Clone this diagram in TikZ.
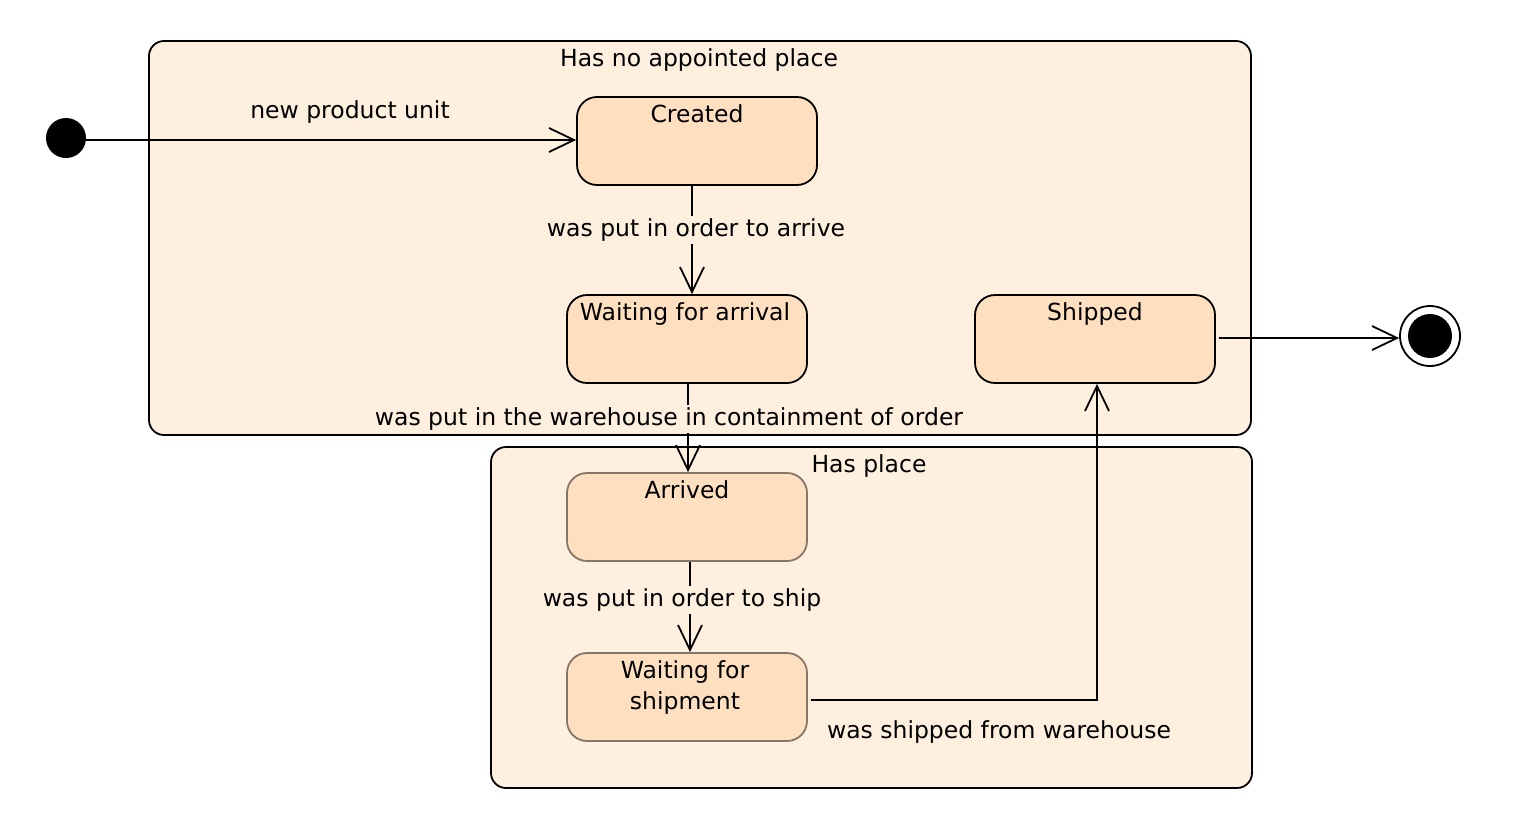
\documentclass[tikz,border=0pt]{standalone}
\usepackage{fontspec}
\setmainfont{DejaVu Sans}
\usetikzlibrary{arrows.meta}
\definecolor{contfill}{HTML}{FEEFDF}
\definecolor{statefill}{HTML}{FEE0C1}
\definecolor{softedge}{HTML}{85766A}
\tikzset{
  cont/.style={draw=black, line width=1.8pt, fill=contfill, rounded corners=15pt, inner sep=0pt},
  stbox/.style={draw=black, line width=1.8pt, fill=statefill, rounded corners=20pt,
    minimum width=240pt, minimum height=88pt, inner sep=0pt},
  stboxsoft/.style={stbox, draw=softedge},
  ttl/.style={anchor=north, inner sep=0pt, align=center},
  arr/.style={line width=1.8pt, -{Straight Barb[length=25pt, width=24pt, line width=1.8pt]}},
  lbl/.style={fill=contfill, inner sep=3pt},
  lblfree/.style={inner sep=0pt},
}
\begin{document}
\begin{tikzpicture}[x=1pt, y=-1pt, font=\fontsize{23.5pt}{31pt}\selectfont]
\useasboundingbox (0,0) rectangle (1536,822);
% containers
\node[cont, minimum width=1102pt, minimum height=394pt] (c1) at (700,238) {};
\node[cont, minimum width=761pt, minimum height=341pt] (c2) at (871.5,617.5) {};
\node[ttl] (c1t) at (699,48) {Has no appointed place};
\node[ttl] (c2t) at (869,454) {Has place};
% states
\node[stbox] (created) at (697,141) {};
\node[stbox] (wfa) at (687,339) {};
\node[stbox] (shipped) at (1095,339) {};
\node[stboxsoft] (arrived) at (687,517) {};
\node[stboxsoft] (wfs) at (687,697) {};
\node[ttl] (createdT) at (697,104) {Created};
\node[ttl] (wfaT) at (685,302) {Waiting for arrival};
\node[ttl] (shippedT) at (1095,302) {Shipped};
\node[ttl] (arrivedT) at (687,480) {Arrived};
\node[ttl, text width=240pt] (wfsT) at (685,660) {Waiting for\\shipment};
% pseudo states
\node[circle, fill=black, minimum size=40pt, inner sep=0pt] (init) at (66,138) {};
\node[circle, draw=black, line width=1.8pt, fill=white, minimum size=60pt, inner sep=0pt] (final) at (1430,336) {};
\node[circle, fill=black, minimum size=44pt, inner sep=0pt] (finalin) at (1430,336) {};
% transitions
\draw[arr] ([yshift=-2pt]init.east) -- ([yshift=-2pt]init.east -| created.west);
\draw[arr] ([xshift=-5pt]created.south) -- ([xshift=5pt]wfa.north);
\draw[arr] ([xshift=1pt]wfa.south) -- ([xshift=1pt]arrived.north);
\draw[arr] ([xshift=3pt]arrived.south) -- ([xshift=3pt]wfs.north);
\draw[arr] ([xshift=3pt, yshift=-3pt]wfs.east) -| ([xshift=2pt]shipped.south);
\draw[arr] ([xshift=3pt, yshift=1pt]shipped.east) -- ([yshift=1pt]shipped.east -| final.west);
% labels
\node[lblfree] (l1) at (350,112) {new product unit};
\node[lbl] (l2) at (696,230) {was put in order to arrive};
\node[lbl] (l3) at (669,419) {was put in the warehouse in containment of order};
\node[lbl] (l4) at (682,600) {was put in order to ship};
\node[lblfree] (l5) at (999,732) {was shipped from warehouse};
\end{tikzpicture}
\end{document}
